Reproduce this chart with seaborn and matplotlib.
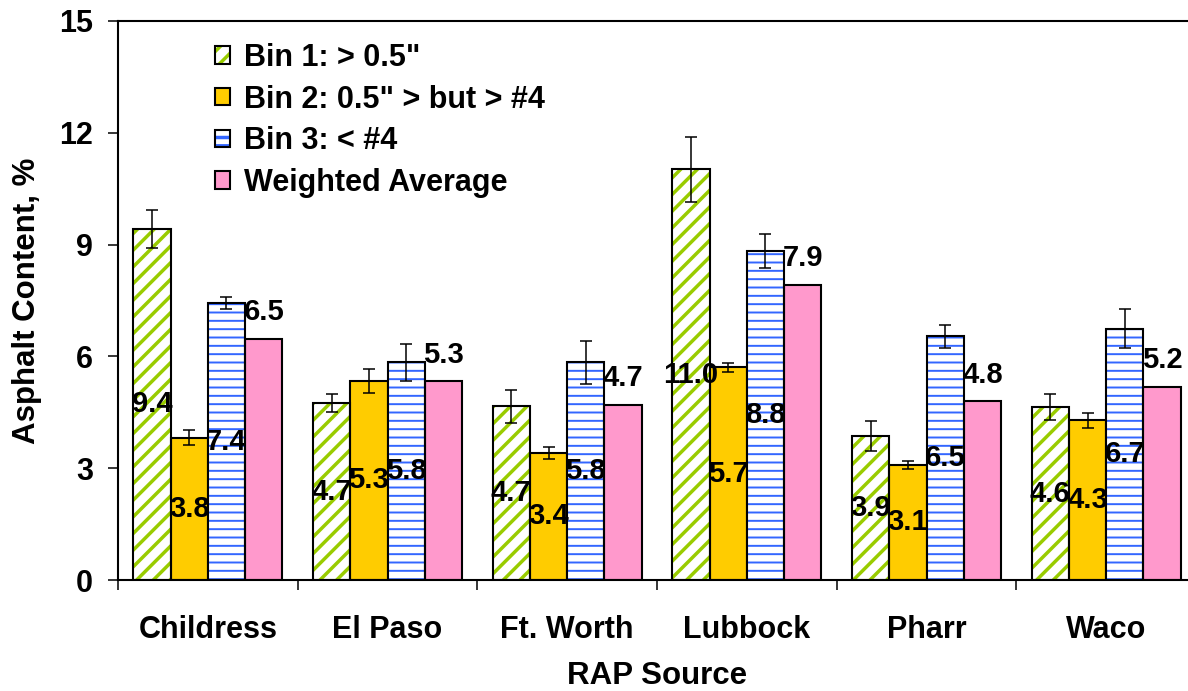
import matplotlib
matplotlib.use("Agg")
import matplotlib.pyplot as plt
from matplotlib.patches import Rectangle, Patch
from matplotlib.legend_handler import HandlerTuple
from matplotlib.ticker import FixedLocator, NullFormatter
import seaborn as sns
import pandas as pd

# ---------------- data ----------------
sources = ["Childress", "El Paso", "Ft. Worth", "Lubbock", "Pharr", "Waco"]
series_names = ['Bin 1: > 0.5"', 'Bin 2: 0.5" > but > #4', 'Bin 3: < #4', 'Weighted Average']
bin1 = [9.42, 4.74, 4.66, 11.02, 3.87, 4.64]
bin2 = [3.82, 5.34, 3.41, 5.71, 3.09, 4.28]
bin3 = [7.43, 5.84, 5.84, 8.83, 6.54, 6.74]
wavg = [6.47, 5.33, 4.70, 7.92, 4.80, 5.18]
bin1_err = [0.50, 0.24, 0.45, 0.87, 0.40, 0.34]
bin2_err = [0.20, 0.31, 0.16, 0.12, 0.11, 0.20]
bin3_err = [0.16, 0.50, 0.58, 0.45, 0.31, 0.52]
y_ticks = [0, 3, 6, 9, 12, 15]

# ---------------- style ----------------
sns.set_theme(style="ticks")
plt.rcParams["font.family"] = ["Liberation Sans", "DejaVu Sans"]
plt.rcParams["font.weight"] = "bold"
plt.rcParams["hatch.linewidth"] = 2.5
for k in ["text.color", "axes.labelcolor", "xtick.color", "ytick.color", "axes.edgecolor"]:
    plt.rcParams[k] = "black"

GREEN = "#99CC00"
ORANGE = "#FFCC00"
BLUE = "#3366FF"
PINK = "#FF99CC"

values = [bin1, bin2, bin3, wavg]
errs = [bin1_err, bin2_err, bin3_err, None]
rows = []
for name, vals in zip(series_names, values):
    for s, v in zip(sources, vals):
        rows.append({"source": s, "series": name, "value": v})
df = pd.DataFrame(rows)

W, H = 1188, 691
fig = plt.figure(figsize=(W / 100, H / 100), dpi=100)
ax = fig.add_axes([118 / W, 1 - 580 / H, (1196 - 118) / W, (580 - 21) / H])

sns.barplot(data=df, x="source", y="value", hue="series", order=sources,
            hue_order=series_names,
            palette=[GREEN, ORANGE, BLUE, PINK], width=0.83, gap=0,
            errorbar=None, saturation=1, edgecolor="black", linewidth=1.5,
            legend=False, ax=ax)
bar_conts = list(ax.containers)

hatch_info = {0: (GREEN, "//", 2.5), 2: (BLUE, "--", 1.4)}
for i, cont in enumerate(bar_conts):
    if i in hatch_info:
        col, hatch, hlw = hatch_info[i]
        for p in cont.patches:
            p.set_facecolor("white")
            p.set_edgecolor(col)
            p.set_hatch(hatch)
            p.set_linewidth(0)
            if hasattr(p, "set_hatch_linewidth"):
                p.set_hatch_linewidth(hlw)
            ax.add_patch(Rectangle(p.get_xy(), p.get_width(), p.get_height(),
                                   fill=False, edgecolor="black", linewidth=1.5,
                                   zorder=p.get_zorder() + 0.1))

# error bars
for i, cont in enumerate(bar_conts):
    if errs[i] is None:
        continue
    xs = [p.get_x() + p.get_width() / 2 for p in cont.patches]
    ys = [p.get_height() for p in cont.patches]
    ax.errorbar(xs, ys, yerr=errs[i], fmt="none", ecolor="black",
                elinewidth=1.1, capsize=4.5, capthick=1.1, zorder=6)

# value labels
for i, cont in enumerate(bar_conts):
    if i < 3:
        ax.bar_label(cont, fmt="%.1f", label_type="center", fontsize=21,
                     fontweight="bold", color="black", zorder=7)
    else:
        ax.bar_label(cont, fmt="%.1f", label_type="edge", padding=9,
                     fontsize=21, fontweight="bold", color="black", zorder=7)

# axes
ax.set_ylim(0, 15)
ax.set_xlim(-0.5, len(sources) - 0.5)
ax.set_yticks(y_ticks)
ax.set_yticklabels([str(t) for t in y_ticks], fontsize=22, fontweight="bold")
ax.tick_params(axis="y", direction="out", length=7, width=1.1, pad=11)

ax.xaxis.set_major_locator(FixedLocator([k - 0.5 for k in range(len(sources) + 1)]))
ax.xaxis.set_major_formatter(NullFormatter())
ax.set_xticks(list(range(len(sources))), minor=True)
ax.set_xticklabels(sources, minor=True, fontsize=22, fontweight="bold")
ax.tick_params(axis="x", which="major", direction="out", length=7, width=1.1)
ax.tick_params(axis="x", which="minor", length=0, pad=25)

ax.set_xlabel("RAP Source", fontsize=22.5, fontweight="bold", labelpad=12)
ax.set_ylabel("Asphalt Content, %", fontsize=22.5, fontweight="bold", labelpad=12)

for side in ["left", "bottom", "top"]:
    ax.spines[side].set_visible(True)
    ax.spines[side].set_linewidth(1.5)
    ax.spines[side].set_color("black")
ax.spines["right"].set_visible(False)
ax.grid(False)

# legend
handles = [
    (Patch(facecolor="white", edgecolor=GREEN, hatch="//", linewidth=0),
     Patch(fill=False, edgecolor="black", linewidth=1.5)),
    Patch(facecolor=ORANGE, edgecolor="black", linewidth=1.5),
    (Patch(facecolor="white", edgecolor=BLUE, hatch="--", linewidth=0),
     Patch(fill=False, edgecolor="black", linewidth=1.5)),
    Patch(facecolor=PINK, edgecolor="black", linewidth=1.5),
]
leg = fig.legend(handles, series_names, loc="upper left",
                 bbox_to_anchor=(215 / W, 1 - 43 / H), frameon=False,
                 prop={"weight": "bold", "size": 22},
                 handlelength=0.5, handleheight=0.5, handletextpad=0.45,
                 labelspacing=0.38, borderpad=0, borderaxespad=0,
                 handler_map={tuple: HandlerTuple(ndivide=1, pad=0)})

fig.savefig("out.png", dpi=100)
